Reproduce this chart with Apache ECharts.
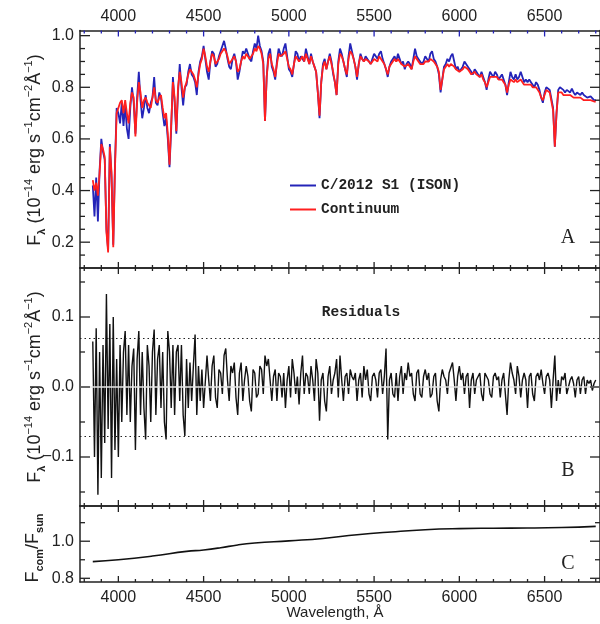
<!DOCTYPE html>
<html>
<head>
<meta charset="utf-8">
<script src="https://cdn.jsdelivr.net/npm/echarts@6/dist/echarts.min.js"></script>
<style>
  html, body { margin: 0; padding: 0; background: #fff; }
  #chart { width: 600px; height: 624px; }
</style>
</head>
<body>
<div id="chart"></div>
<script>
// wavelength grid (Angstrom) shared by panels A and B
const wave = [
  3850, 3860, 3870, 3880, 3890, 3900, 3910, 3920, 3930, 3940,
  3950, 3960, 3970, 3980, 3990, 4000, 4010, 4020, 4030, 4040,
  4050, 4060, 4070, 4080, 4090, 4100, 4110, 4120, 4130, 4140,
  4150, 4160, 4170, 4180, 4190, 4200, 4210, 4220, 4230, 4240,
  4250, 4260, 4270, 4280, 4290, 4300, 4310, 4320, 4330, 4340,
  4350, 4360, 4370, 4380, 4390, 4400, 4410, 4420, 4430, 4440,
  4450, 4460, 4470, 4480, 4490, 4500,
  4510, 4520, 4530, 4540, 4550, 4560, 4570, 4580, 4590, 4600,
  4610, 4620, 4630, 4640, 4650, 4660, 4670, 4680, 4690, 4700,
  4710, 4720, 4730, 4740, 4750, 4760, 4770, 4780, 4790, 4800,
  4810, 4820, 4830, 4840, 4850, 4860, 4870, 4880, 4890, 4900,
  4910, 4920, 4930, 4940, 4950, 4960, 4970, 4980, 4990, 5000,
  5010, 5020, 5030, 5040, 5050, 5060, 5070, 5080, 5090, 5100,
  5110, 5120, 5130, 5140, 5150, 5160, 5170, 5180, 5190, 5200,
  5210, 5220, 5230, 5240, 5250, 5260, 5270, 5280, 5290, 5300,
  5310, 5320, 5330, 5340, 5350, 5360, 5370, 5380, 5390, 5400,
  5410, 5420, 5430, 5440, 5450, 5460, 5470, 5480, 5490, 5500,
  5510, 5520, 5530, 5540, 5550, 5560, 5570, 5580, 5590, 5600,
  5610, 5620, 5630, 5640, 5650, 5660, 5670, 5680, 5690, 5700,
  5710, 5720, 5730, 5740, 5750, 5760, 5770, 5780, 5790, 5800,
  5810, 5820, 5830, 5840, 5850, 5860, 5870, 5880, 5890, 5900,
  5910, 5920, 5930, 5940, 5950, 5960, 5970, 5980, 5990, 6000,
  6010, 6020, 6030, 6040, 6050, 6060, 6070, 6080, 6090, 6100,
  6110, 6120, 6130, 6140, 6150, 6160, 6170, 6180, 6190, 6200,
  6210, 6220, 6230, 6240, 6250, 6260, 6270, 6280, 6290, 6300,
  6310, 6320, 6330, 6340, 6350, 6360, 6370, 6380, 6390, 6400,
  6410, 6420, 6430, 6440, 6450, 6460, 6470, 6480, 6490, 6500,
  6510, 6520, 6530, 6540, 6550, 6560, 6570, 6580, 6590, 6600,
  6610, 6620, 6630, 6640, 6650, 6660, 6670, 6680, 6690, 6700,
  6710, 6720, 6730, 6740, 6750, 6760, 6770, 6780, 6790, 6800
];

// comet spectrum, 1e-14 erg/s/cm2/A
const isonFlux = [
  0.42, 0.30, 0.45, 0.28, 0.48, 0.60, 0.55, 0.52, 0.25, 0.17,
  0.58, 0.45, 0.19, 0.50, 0.72, 0.70, 0.66, 0.74, 0.65, 0.73,
  0.64, 0.60, 0.72, 0.80, 0.74, 0.62, 0.76, 0.86, 0.75, 0.68,
  0.72, 0.77, 0.72, 0.70, 0.74, 0.76, 0.84, 0.74, 0.73, 0.78,
  0.76, 0.70, 0.65, 0.68, 0.60, 0.49, 0.64, 0.84, 0.74, 0.62,
  0.78, 0.89, 0.80, 0.73, 0.80, 0.81, 0.86, 0.89, 0.85, 0.84,
  0.82, 0.77, 0.86, 0.90, 0.92, 0.96,
  0.91, 0.86, 0.83, 0.90, 0.94, 0.93, 0.88, 0.89, 0.92, 0.94,
  0.96, 0.98, 0.95, 0.91, 0.88, 0.87, 0.91, 0.93, 0.90, 0.83,
  0.86, 0.90, 0.94, 0.93, 0.95, 0.95, 0.91, 0.90, 0.94, 0.97,
  0.95, 1.00, 0.96, 0.94, 0.90, 0.67, 0.84, 0.93, 0.95, 0.88,
  0.86, 0.83, 0.90, 0.95, 0.93, 0.92, 0.95, 0.97, 0.92, 0.87,
  0.86, 0.84, 0.89, 0.94, 0.93, 0.90, 0.92, 0.92, 0.90, 0.95,
  0.92, 0.89, 0.93, 0.90, 0.88, 0.86, 0.78, 0.68, 0.82, 0.89,
  0.91, 0.87, 0.90, 0.93, 0.90, 0.85, 0.82, 0.77, 0.90, 0.95,
  0.93, 0.90, 0.87, 0.84, 0.92, 0.97, 0.94, 0.91, 0.88, 0.83,
  0.89, 0.93, 0.91, 0.90, 0.92, 0.92, 0.90, 0.89, 0.91, 0.93,
  0.92, 0.91, 0.93, 0.94, 0.91, 0.89, 0.87, 0.84, 0.88, 0.90,
  0.91, 0.92, 0.90, 0.93, 0.91, 0.89, 0.90, 0.87, 0.89, 0.90,
  0.89, 0.87, 0.91, 0.95, 0.92, 0.91, 0.90, 0.89, 0.90, 0.92,
  0.91, 0.90, 0.93, 0.94, 0.91, 0.90, 0.88, 0.85, 0.78, 0.83,
  0.88, 0.89, 0.91, 0.90, 0.92, 0.93, 0.90, 0.87, 0.88, 0.86,
  0.87, 0.88, 0.90, 0.90, 0.88, 0.87, 0.86, 0.85, 0.87, 0.86,
  0.85, 0.84, 0.86, 0.84, 0.82, 0.79, 0.83, 0.86, 0.85, 0.84,
  0.86, 0.85, 0.83, 0.84, 0.85, 0.83, 0.81, 0.77, 0.82, 0.86,
  0.84, 0.83, 0.85, 0.83, 0.84, 0.86, 0.84, 0.82, 0.83, 0.82,
  0.83, 0.82, 0.81, 0.80, 0.82, 0.81, 0.79, 0.76, 0.74, 0.78,
  0.80, 0.80, 0.79, 0.79, 0.72, 0.57, 0.70, 0.79, 0.80, 0.80,
  0.79, 0.78, 0.79, 0.79, 0.78, 0.795, 0.78, 0.77, 0.78, 0.78,
  0.77, 0.78, 0.77, 0.77, 0.76, 0.76, 0.765, 0.76, 0.75, 0.75
];

// fitted continuum
const continuumFlux = [
  0.44, 0.40, 0.43, 0.38, 0.47, 0.58, 0.56, 0.53, 0.24, 0.16,
  0.57, 0.47, 0.18, 0.48, 0.70, 0.72, 0.74, 0.75, 0.70, 0.75,
  0.70, 0.66, 0.74, 0.78, 0.76, 0.61, 0.74, 0.82, 0.78, 0.72,
  0.75, 0.76, 0.74, 0.73, 0.72, 0.76, 0.80, 0.75, 0.74, 0.76,
  0.77, 0.72, 0.68, 0.70, 0.62, 0.50, 0.66, 0.82, 0.76, 0.63,
  0.80, 0.86, 0.82, 0.76, 0.80, 0.82, 0.85, 0.87, 0.86, 0.85,
  0.83, 0.80, 0.85, 0.89, 0.91, 0.95,
  0.92, 0.88, 0.86, 0.90, 0.93, 0.92, 0.89, 0.90, 0.91, 0.93,
  0.94, 0.95, 0.94, 0.92, 0.89, 0.89, 0.91, 0.92, 0.90, 0.86,
  0.87, 0.90, 0.92, 0.91, 0.93, 0.93, 0.91, 0.91, 0.93, 0.95,
  0.94, 0.96, 0.95, 0.93, 0.89, 0.67, 0.84, 0.91, 0.93, 0.89,
  0.87, 0.84, 0.89, 0.93, 0.92, 0.92, 0.93, 0.94, 0.91, 0.88,
  0.87, 0.85, 0.89, 0.92, 0.92, 0.90, 0.91, 0.92, 0.90, 0.93,
  0.91, 0.89, 0.92, 0.90, 0.88, 0.86, 0.78, 0.69, 0.82, 0.88,
  0.90, 0.87, 0.90, 0.92, 0.89, 0.86, 0.82, 0.77, 0.89, 0.93,
  0.92, 0.90, 0.87, 0.85, 0.91, 0.94, 0.93, 0.91, 0.88, 0.84,
  0.89, 0.92, 0.91, 0.90, 0.91, 0.91, 0.90, 0.89, 0.90, 0.91,
  0.91, 0.90, 0.92, 0.92, 0.90, 0.89, 0.87, 0.85, 0.88, 0.89,
  0.90, 0.91, 0.90, 0.91, 0.90, 0.89, 0.89, 0.88, 0.88, 0.89,
  0.88, 0.87, 0.90, 0.92, 0.91, 0.90, 0.89, 0.89, 0.89, 0.90,
  0.90, 0.90, 0.91, 0.91, 0.90, 0.89, 0.88, 0.86, 0.79, 0.83,
  0.87, 0.88, 0.89, 0.88, 0.89, 0.89, 0.88, 0.87, 0.87, 0.86,
  0.86, 0.87, 0.88, 0.88, 0.87, 0.86, 0.85, 0.85, 0.86, 0.85,
  0.85, 0.84, 0.85, 0.83, 0.82, 0.80, 0.82, 0.84, 0.84, 0.84,
  0.84, 0.84, 0.83, 0.83, 0.83, 0.82, 0.81, 0.78, 0.81, 0.83,
  0.83, 0.82, 0.83, 0.82, 0.82, 0.83, 0.82, 0.81, 0.81, 0.81,
  0.81, 0.81, 0.80, 0.80, 0.80, 0.79, 0.78, 0.76, 0.75, 0.77,
  0.79, 0.79, 0.78, 0.78, 0.71, 0.57, 0.70, 0.78, 0.78, 0.78,
  0.77, 0.77, 0.77, 0.77, 0.77, 0.77, 0.76, 0.76, 0.76, 0.76,
  0.76, 0.76, 0.75, 0.75, 0.75, 0.75, 0.75, 0.745, 0.745, 0.745
];

// residuals (panel B)
const residuals = [
  0.065, -0.10, 0.084, -0.154, 0.05, -0.13, 0.06, -0.08, 0.133, -0.06,
  0.09, -0.13, 0.10, -0.09, 0.04, -0.10, 0.06, -0.05, 0.05, 0.08,
  -0.04, 0.06, -0.05, 0.03, 0.055, -0.09, 0.04, 0.08, -0.04, 0.05,
  -0.03, -0.075, 0.06, 0.03, -0.05, 0.05, 0.082, -0.04, 0.04, 0.06,
  -0.03, 0.05, -0.05, -0.075, 0.08, 0.05, -0.03, 0.06, -0.04, 0.05,
  0.06, -0.02, 0.06, -0.04, -0.07, 0.04, -0.03, 0.035, -0.02, 0.03,
  0.075, -0.04, 0.03, -0.02, 0.025, -0.03,
  -0.03, 0.045, 0.01, -0.02, 0.03, 0.045, -0.015, -0.03, 0.025, 0.02,
  -0.01, 0.045, 0.055, 0.01, -0.02, 0.03, 0.02, 0.035, -0.015, -0.04,
  0.02, 0.035, -0.02, 0.01, 0.03, 0.015, -0.02, -0.035, 0.025, 0.02,
  -0.015, -0.01, 0.03, 0.025, -0.01, 0.045, 0.03, 0.04, 0.01, -0.02,
  0.015, 0.025, -0.02, 0.02, 0.015, -0.015, 0.02, -0.03, 0.01, 0.03,
  -0.015, 0.04, 0.02, -0.01, 0.015, -0.025, 0.02, 0.045, -0.01, 0.02,
  0.015, -0.01, 0.03, 0.01, -0.02, 0.04, 0.02, -0.048, 0.01, 0.02,
  -0.02, -0.035, 0.015, 0.03, -0.01, 0.01, 0.02, 0.04, -0.015, 0.045,
  0.01, -0.02, 0.015, 0.02, -0.01, 0.025, 0.015, 0.01, 0.02, -0.02,
  0.01, 0.02, -0.015, 0.03, 0.01, 0.025, -0.01, -0.02, 0.015, 0.02,
  0.01, -0.015, 0.02, 0.025, -0.01, 0.015, 0.055, -0.075, 0.01, 0.02,
  -0.01, -0.015, 0.02, -0.02, 0.015, 0.03, -0.01, 0.02, 0.01, 0.035,
  0.015, 0.02, -0.01, -0.02, 0.02, 0.025, -0.01, -0.015, 0.015, 0.025,
  0.01, 0.02, -0.015, -0.01, 0.015, 0.02, -0.02, -0.035, 0.01, 0.025,
  0.015, 0.01, -0.01, 0.02, 0.02, 0.035, 0.01, -0.02, 0.015, 0.03,
  0.01, 0.02, -0.01, 0.015, 0.02, -0.03, 0.01, 0.02, -0.01, 0.01,
  0.015, 0.02, -0.01, -0.02, 0.02, 0.015, 0.01, -0.01, -0.015, 0.015,
  0.02, 0.01, 0.015, -0.015, 0.01, 0.02, -0.01, -0.04, 0.01, 0.035,
  0.02, 0.01, -0.01, 0.03, 0.015, -0.015, 0.01, 0.02, 0.01, -0.03,
  0.015, 0.02, -0.01, -0.02, 0.015, 0.02, 0.01, 0.025, 0.005, -0.01,
  0.015, 0.02, 0.01, -0.03, 0.01, 0.045, -0.02, 0.01, -0.01, 0.015,
  0.01, 0.02, -0.01, -0.01, 0.01, 0.015, 0.005, -0.015, 0.01, 0.015,
  -0.01, 0.01, 0.015, -0.01, 0.01, 0.005, 0.01, -0.005, 0.005, 0.01
];

// comet / sun ratio (panel C)
const ratioWave = [3850, 4000, 4200, 4400, 4500, 4600, 4700, 4800, 5000, 5200, 5400, 5600, 5800, 6000, 6200, 6400, 6600, 6800];
const ratio = [0.89, 0.90, 0.92, 0.945, 0.953, 0.965, 0.98, 0.99, 1.002, 1.015, 1.035, 1.05, 1.062, 1.068, 1.07, 1.071, 1.074, 1.08];

// tick positions
const xMajor = [4000, 4500, 5000, 5500, 6000, 6500];
const xMinor = [3800, 3900, 4100, 4200, 4300, 4400, 4600, 4700, 4800, 4900, 5100, 5200, 5300, 5400,
                5600, 5700, 5800, 5900, 6100, 6200, 6300, 6400, 6600, 6700, 6800];
const yMajorA = [0.2, 0.4, 0.6, 0.8, 1.0];
const yMinorA = [0.15, 0.25, 0.3, 0.35, 0.45, 0.5, 0.55, 0.65, 0.7, 0.75, 0.85, 0.9, 0.95];
const yMajorB = [-0.1, 0, 0.1];
const yMinorB = [-0.15, -0.05, 0.05, 0.15];
const yMajorC = [0.8, 1.0];
const yMinorC = [0.9, 1.1];
const residLimit = 0.075;

const X_MIN = 3775, X_MAX = 6825;
const LEFT = 80, WIDTH = 521;
const SANS = "'Liberation Sans', Arial, sans-serif";
const MONO = "'Liberation Mono', 'DejaVu Sans Mono', monospace";
const SERIF = "'Liberation Serif', 'DejaVu Serif', serif";
const BLUE = '#2424b8', RED = '#ff1f1f', INK = '#222', FRAME = '#222';

const panels = [
  { top: 30.5, height: 237.5, min: 0.1, max: 1.02, major: yMajorA, minor: yMinorA, topLabels: true, topColor: BLUE },
  { top: 268, height: 238, min: -0.17, max: 0.17, major: yMajorB, minor: yMinorB },
  { top: 506, height: 76, min: 0.78, max: 1.19, major: yMajorC, minor: yMinorC, bottomLabels: true }
];

const grids = [], xAxes = [], yAxes = [];
const fmtY = v => Number(v).toFixed(1).replace('-', '\u2212');
const frameLine = { show: true, onZero: false, lineStyle: { color: FRAME, width: 1.5 } };

panels.forEach((p, pi) => {
  grids.push({ left: LEFT, top: p.top, width: WIDTH, height: p.height });
  ['bottom', 'top'].forEach(pos => {
    const showLab = (pos === 'top' && p.topLabels) || (pos === 'bottom' && p.bottomLabels);
    xAxes.push({
      type: 'value', gridIndex: pi, position: pos, min: X_MIN, max: X_MAX,
      axisLine: frameLine, axisTick: { show: false }, splitLine: { show: false },
      axisLabel: { show: !!showLab, customValues: xMajor, margin: pos === 'top' ? 6 : 8,
        formatter: v => String(v), color: INK, fontSize: 16, fontFamily: SANS }
    });
  });
  ['left', 'right'].forEach(pos => {
    yAxes.push({
      type: 'value', gridIndex: pi, position: pos, min: p.min, max: p.max,
      axisLine: frameLine, axisTick: { show: false }, splitLine: { show: false },
      axisLabel: { show: pos === 'left', customValues: p.major, margin: 6, formatter: fmtY,
        color: INK, fontSize: 16, fontFamily: SANS }
    });
  });
});

const pairs = (xs, ys) => xs.map((x, i) => [x, ys[i]]);
const dotted = { color: INK, type: [1.5, 3], width: 1.2 };

const series = [
  {
    name: 'C/2012 S1 (ISON)', type: 'line', xAxisIndex: 0, yAxisIndex: 0,
    data: pairs(wave, isonFlux), showSymbol: false, symbol: 'none',
    lineStyle: { color: BLUE, width: 1.8 }, itemStyle: { color: BLUE }
  },
  {
    name: 'Continuum', type: 'line', xAxisIndex: 0, yAxisIndex: 0,
    data: pairs(wave, continuumFlux), showSymbol: false, symbol: 'none',
    lineStyle: { color: RED, width: 1.8 }, itemStyle: { color: RED }
  },
  {
    name: 'Residuals', type: 'line', xAxisIndex: 2, yAxisIndex: 2,
    data: pairs(wave, residuals), showSymbol: false, symbol: 'none',
    lineStyle: { color: '#111', width: 1.4 },
    markLine: {
      silent: true, symbol: ['none', 'none'], label: { show: false }, animation: false,
      data: [
        { yAxis: residLimit, lineStyle: dotted },
        { yAxis: -residLimit, lineStyle: dotted },
        { yAxis: 0, lineStyle: { color: '#e4e4e4', type: 'solid', width: 1.5 } }
      ]
    }
  },
  {
    name: 'ratio', type: 'line', xAxisIndex: 4, yAxisIndex: 4,
    data: pairs(ratioWave, ratio), smooth: true, showSymbol: false, symbol: 'none',
    lineStyle: { color: '#111', width: 1.6 }
  }
];

const ytitleRich = {
  t: { fontSize: 18, fontFamily: SANS, fill: INK, lineHeight: 24 },
  p: { fontSize: 11, fontFamily: SANS, fill: INK, lineHeight: 24, verticalAlign: 'top' },
  s: { fontSize: 11, fontFamily: SANS, fontWeight: 'bold', fill: INK, lineHeight: 24, verticalAlign: 'bottom' }
};
const fluxTitle = '{t|F}{s|\u03bb}{t| (10}{p|\u221214}{t| erg s}{p|\u22121}{t|cm}{p|\u22122}{t|\u00c5}{p|\u22121}{t|)}';

const textEl = (x, y, text, font) => ({
  type: 'text', x, y, silent: true,
  style: { text, font, fill: INK, align: 'center', verticalAlign: 'middle' }
});
const rotEl = (x, y, text) => ({
  type: 'text', x, y, rotation: Math.PI / 2, silent: true,
  style: { text, rich: ytitleRich, align: 'center', verticalAlign: 'middle' }
});

const graphic = [
  rotEl(35, 150, fluxTitle),
  rotEl(35, 387, fluxTitle),
  rotEl(33, 548, '{t|F}{s|com}{t|/F}{s|sun}'),
  textEl(568, 238, 'A', '20px ' + SERIF),
  textEl(568, 471, 'B', '20px ' + SERIF),
  textEl(568, 564, 'C', '20px ' + SERIF),
  textEl(361, 312, 'Residuals', 'bold 14.5px ' + MONO),
  textEl(335, 613, 'Wavelength, \u00c5', '15px ' + SANS)
];

const chart = echarts.init(document.getElementById('chart'), null, { renderer: 'canvas' });
chart.setOption({
  animation: false,
  backgroundColor: '#fff',
  grid: grids,
  xAxis: xAxes,
  yAxis: yAxes,
  legend: {
    data: ['C/2012 S1 (ISON)', 'Continuum'],
    orient: 'vertical', left: 290, top: 178, padding: 0, itemGap: 9,
    icon: 'rect', itemWidth: 26, itemHeight: 2,
    textStyle: { fontFamily: MONO, fontWeight: 'bold', fontSize: 14.5, color: INK },
    selectedMode: false
  },
  series,
  graphic
});

// inward tick marks on the four sides of each panel, placed with the grid's own scales
const ticks = [];
panels.forEach((p, pi) => {
  const px = (x, y) => chart.convertToPixel({ gridIndex: pi }, [x, y]);
  const add = (pt, dx, dy, color) => ticks.push({
    type: 'line', silent: true, z: 100,
    shape: { x1: pt[0], y1: pt[1], x2: pt[0] + dx, y2: pt[1] + dy },
    style: { stroke: color, lineWidth: 1.3 }
  });
  const topColor = p.topColor || FRAME;
  xMajor.forEach(v => { add(px(v, p.min), 0, -6, FRAME); add(px(v, p.max), 0, 6, topColor); });
  xMinor.forEach(v => { add(px(v, p.min), 0, -3, FRAME); add(px(v, p.max), 0, 3, topColor); });
  p.major.forEach(v => { add(px(X_MIN, v), 10, 0, FRAME); add(px(X_MAX, v), -10, 0, FRAME); });
  p.minor.forEach(v => { add(px(X_MIN, v), 5, 0, FRAME); add(px(X_MAX, v), -5, 0, FRAME); });
});
chart.setOption({ graphic: graphic.concat(ticks) });
</script>
</body>
</html>
